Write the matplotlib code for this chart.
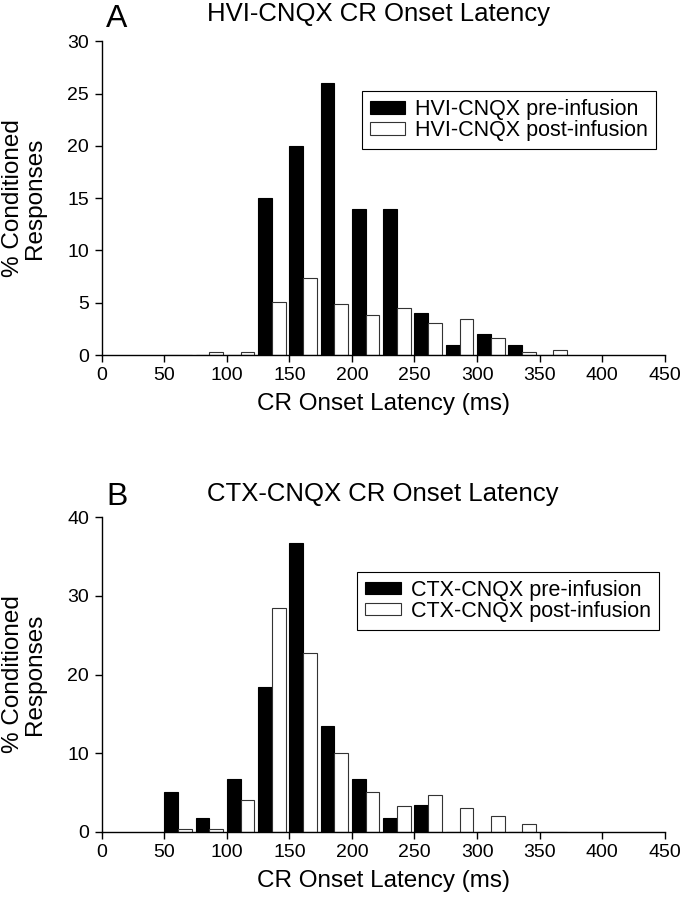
import numpy as np
import matplotlib
matplotlib.use('Agg')
from matplotlib import pyplot as plt
from matplotlib.patches import Patch

plt.rcParams['font.family'] = ['Liberation Sans', 'DejaVu Sans']

# bin starts (ms), 25 ms bins
bins = [50, 75, 100, 125, 150, 175, 200, 225, 250, 275, 300, 325, 350]
# panel A: HVI-CNQX (% conditioned responses)
hvi_pre = [0, 0, 0, 15, 20, 26, 14, 14, 4, 1, 2, 1, 0]
hvi_post = [0, 0.25, 0.25, 5.1, 7.4, 4.9, 3.8, 4.5, 3.1, 3.4, 1.6, 0.25, 0.5]
# panel B: CTX-CNQX
ctx_pre = [5, 1.7, 6.7, 18.4, 36.7, 13.4, 6.7, 1.7, 3.4, 0, 0, 0, 0]
ctx_post = [0.3, 0.3, 4.0, 28.4, 22.7, 10.0, 5.0, 3.3, 4.7, 3.0, 2.0, 1.0, 0]

xticks = np.arange(0, 451, 50)
W, H = 681, 899
tick_fs = 14
lab_fs = 17.5
leg_fs = 15.5
bw = 11  # bar width in ms

fig = plt.figure(figsize=(W/100, H/100), dpi=100, facecolor='w')
axA = fig.add_axes([101.7/W, (H-355)/H, 563/W, 313.8/H])
axB = fig.add_axes([101.7/W, (H-831.7)/H, 563/W, 314.4/H])

panels = [
    (axA, hvi_pre, hvi_post, 'HVI-CNQX', 30, 5, 'A', 20.7, 26.7, (361.7, 91)),
    (axB, ctx_pre, ctx_post, 'CTX-CNQX', 40, 10, 'B', 500.5, 505, (357.3, 571.7)),
]

b = np.array(bins)
for ax, pre, post, name, ymax, ystep, letter, ty, ly, legpos in panels:
    ax.bar(b, pre, width=bw, align='edge', color='k', edgecolor='k', linewidth=0.8)
    ax.bar(b + bw, post, width=bw, align='edge', color='w', edgecolor='#333333', linewidth=0.8)
    ax.set_xlim(0, 450)
    ax.set_ylim(0, ymax)
    ax.set_xticks(xticks)
    ax.set_yticks(np.arange(0, ymax + 1, ystep))
    for s in ['top', 'right']:
        ax.spines[s].set_visible(False)
    for s in ['left', 'bottom']:
        ax.spines[s].set_linewidth(1.0)
    ax.tick_params(direction='out', length=5, width=1.0, labelsize=tick_fs, pad=4)
    ax.set_xlabel('CR Onset Latency (ms)', fontsize=lab_fs, labelpad=6)
    ax.set_ylabel('% Conditioned\nResponses', fontsize=lab_fs, linespacing=1.0)
    ax.yaxis.set_label_coords(-0.099, 0.5)

    fig.text(207/W, 1 - ty/H, name + ' CR Onset Latency', fontsize=18.5, va='baseline', ha='left')
    fig.text(106/W, 1 - ly/H, letter, fontsize=23, va='baseline', ha='left')

    handles = [Patch(facecolor='k', edgecolor='k', linewidth=0.8),
               Patch(facecolor='w', edgecolor='#333333', linewidth=0.8)]
    leg = ax.legend(handles, [name + ' pre-infusion', name + ' post-infusion'],
                    loc='upper left', bbox_to_anchor=(legpos[0]/W, 1 - legpos[1]/H),
                    bbox_transform=fig.transFigure, fontsize=leg_fs, frameon=True,
                    fancybox=False, edgecolor='k', framealpha=1,
                    handlelength=1.65, handleheight=0.5, handletextpad=0.45,
                    labelspacing=0.0, borderpad=0.38, borderaxespad=0)
    leg.get_frame().set_linewidth(0.8)

fig.savefig('out.png', dpi=100)
